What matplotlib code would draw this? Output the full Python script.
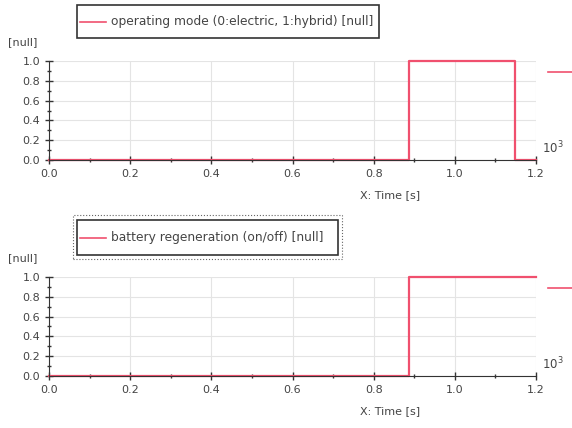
import numpy as np
import matplotlib
matplotlib.use("Agg")
import matplotlib.pyplot as plt
from matplotlib.ticker import MultipleLocator

# step signals (time [s], value [null])
t_mode = [0.0, 0.887, 1.148, 1.2]
v_mode = [0, 1, 0, 0]
t_regen = [0.0, 0.887, 1.2]
v_regen = [0, 1, 1]

labels = ['operating mode (0:electric, 1:hybrid) [null]',
          'battery regeneration (on/off) [null]']
xticks = [0.0, 0.2, 0.4, 0.6, 0.8, 1.0, 1.2]
yticks = [0.0, 0.2, 0.4, 0.6, 0.8, 1.0]

red = '#f0506e'
txt = '#444444'
plt.rcParams['font.family'] = 'DejaVu Sans'

fig = plt.figure(figsize=(5.72, 4.28), dpi=100)

rects = [[0.0857, 0.626, 0.8514, 0.2313], [0.0857, 0.1215, 0.8514, 0.2313]]
series = [(t_mode, v_mode), (t_regen, v_regen)]
leg_boxes = [(77, 5, 379, 38), (77, 220, 338, 255)]

for i, (r, (t, v)) in enumerate(zip(rects, series)):
    ax = fig.add_axes(r)
    ax.step(t, v, where='post', color=red, linewidth=1.6, clip_on=False)
    ax.set_xlim(0, 1.2)
    ax.set_ylim(0, 1.0)
    ax.set_xticks(xticks)
    ax.set_yticks(yticks)
    ax.set_xticklabels([f'{x:.1f}' for x in xticks], fontsize=8, color=txt)
    ax.set_yticklabels([f'{y:.1f}' for y in yticks], fontsize=8, color=txt)
    ax.xaxis.set_minor_locator(MultipleLocator(0.1))
    ax.yaxis.set_minor_locator(MultipleLocator(0.1))
    ax.tick_params(which='major', direction='inout', length=6, width=1, color='#333333')
    ax.tick_params(which='minor', direction='inout', length=3, width=1, color='#333333')
    ax.grid(True, which='major', color='#e4e4e4', linewidth=0.8)
    ax.spines['top'].set_visible(False)
    ax.spines['right'].set_visible(False)
    ax.spines['left'].set_color('#333333')
    ax.spines['bottom'].set_color('#333333')
    ax.set_xlabel('X: Time [s]', fontsize=8, color=txt)
    ax.xaxis.set_label_coords(0.70, -0.30)
    ax.text(-0.085, 1.16, '[null]', transform=ax.transAxes, fontsize=8, color=txt)
    ax.text(1.012, 0.07, r'$10^3$', transform=ax.transAxes, fontsize=8.5, color=txt)
    # short line at the right edge
    ax.plot([1.025, 1.08], [0.89, 0.89], color=red, linewidth=1.2,
            transform=ax.transAxes, clip_on=False)

    # legend box drawn in figure pixels
    x0, y0, x1, y1 = leg_boxes[i]
    W, H = 572, 428
    fx0, fx1 = x0 / W, x1 / W
    fy0, fy1 = 1 - y1 / H, 1 - y0 / H
    box = plt.Rectangle((fx0, fy0), fx1 - fx0, fy1 - fy0, transform=fig.transFigure,
                        fill=False, edgecolor='#333333', linewidth=1.2)
    fig.add_artist(box)
    if i == 1:
        outer = plt.Rectangle((fx0 - 0.007, fy0 - 0.009), fx1 - fx0 + 0.014, fy1 - fy0 + 0.021,
                              transform=fig.transFigure, fill=False, edgecolor='#666666',
                              linewidth=0.8, linestyle=':')
        fig.add_artist(outer)
    ym = (fy0 + fy1) / 2
    fig.add_artist(plt.Line2D([fx0 + 0.006, fx0 + 0.05], [ym, ym], color=red,
                              linewidth=1.2, transform=fig.transFigure))
    fig.text(fx0 + 0.06, ym, labels[i], fontsize=8.8, color=txt, va='center')

fig.savefig('out.png', dpi=100)
